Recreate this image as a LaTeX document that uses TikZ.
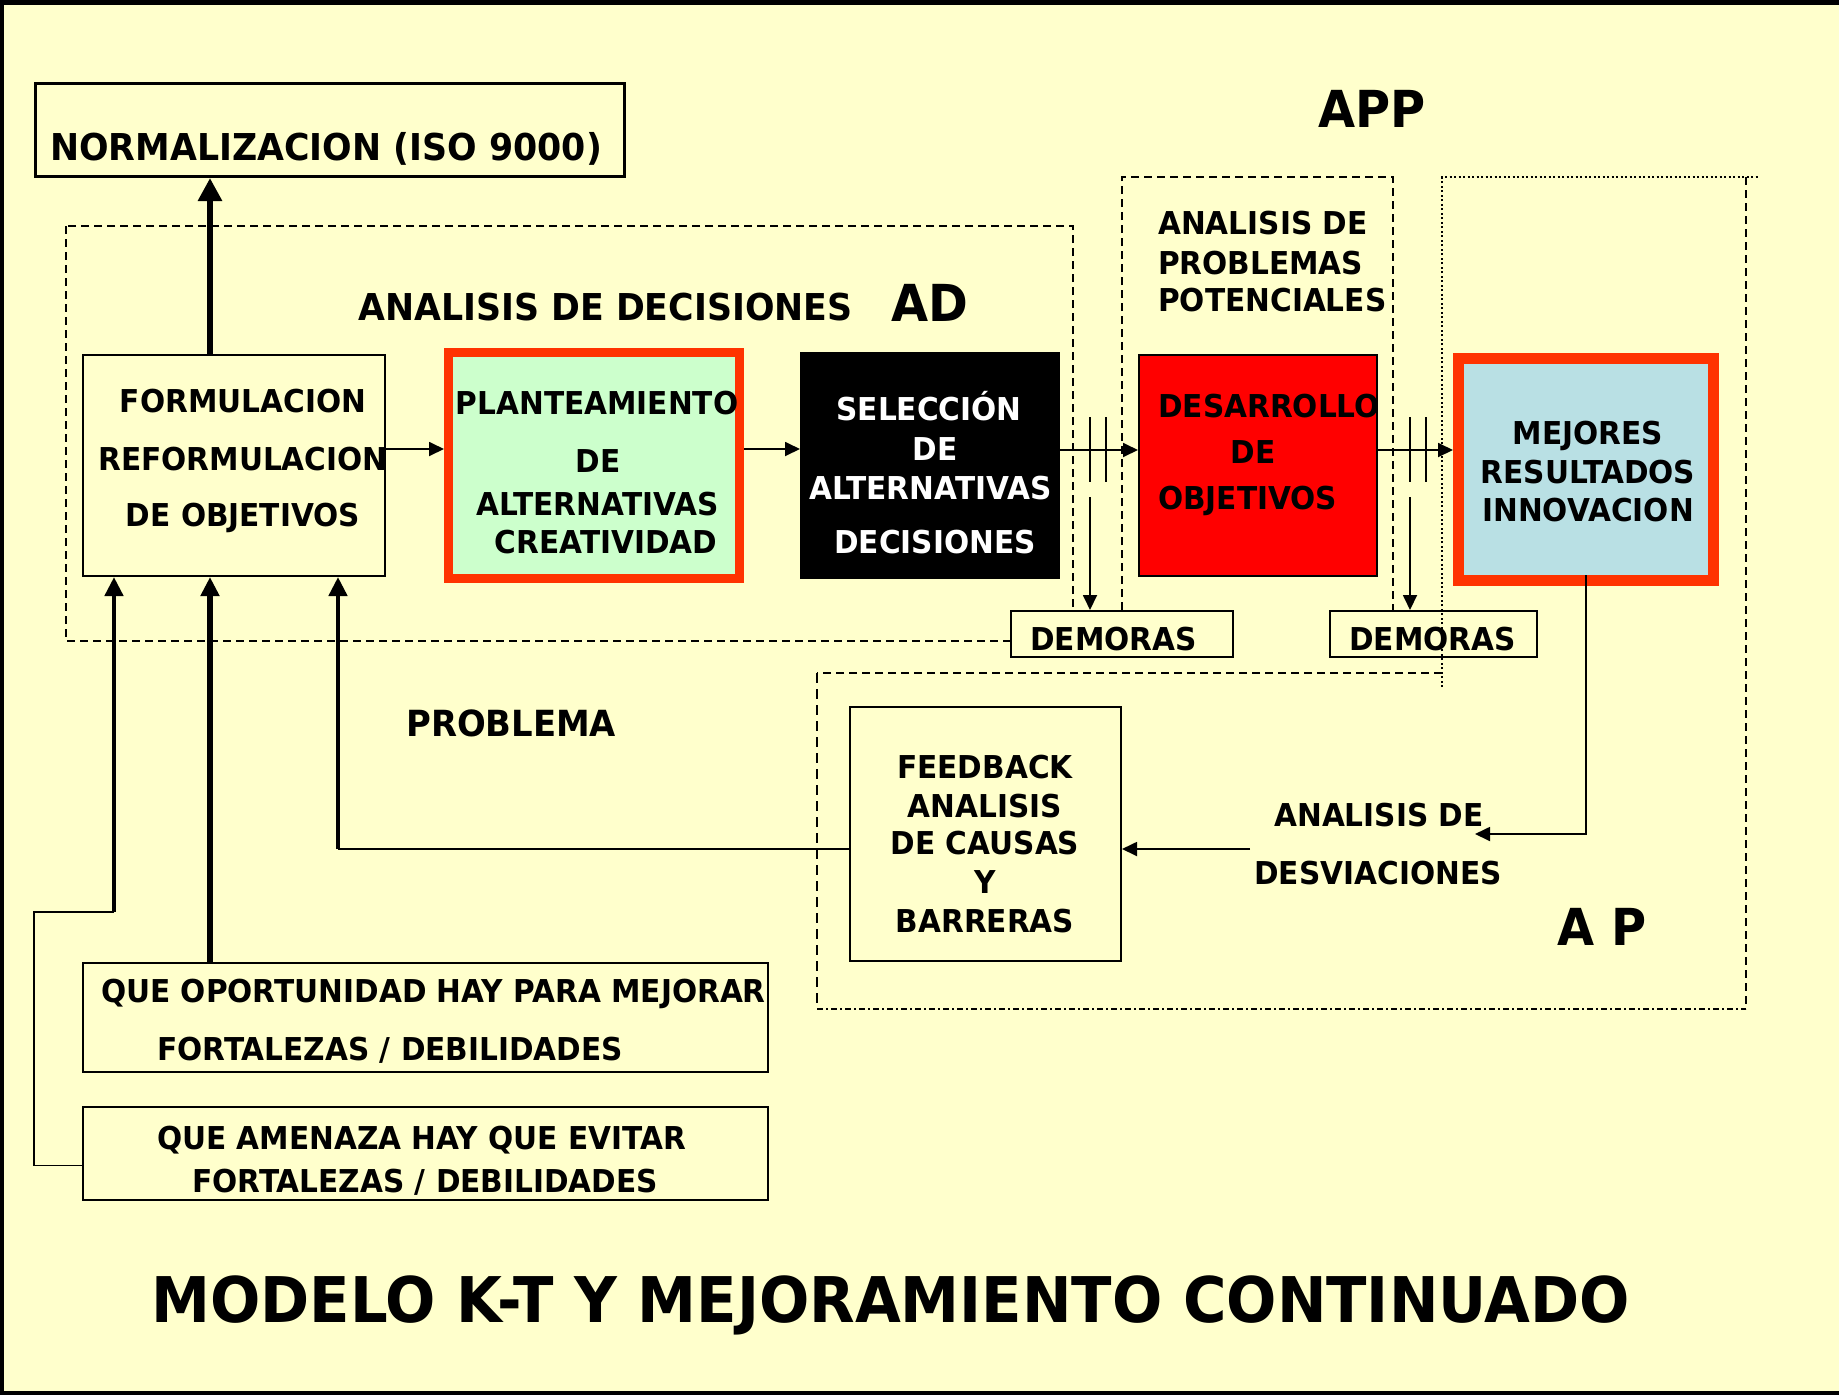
\documentclass[tikz,border=0pt]{standalone}
\usepackage{fontspec}
\setmainfont{DejaVu Sans}[FakeStretch=0.94]
\usetikzlibrary{arrows.meta, positioning}
\definecolor{paper}{RGB}{255,255,204}
\definecolor{mint}{RGB}{204,255,204}
\definecolor{flame}{RGB}{255,51,0}
\definecolor{sky}{RGB}{185,224,228}
\newcommand*{\ktbox}{\fontsize{31.5}{38}\selectfont\bfseries}
\newcommand*{\ktmid}{\fontsize{36}{43}\selectfont\bfseries}
\newcommand*{\ktbig}{\fontsize{51}{61}\selectfont\bfseries}
\newcommand*{\kthead}{\fontsize{63}{76}\selectfont\bfseries}
\tikzstyle{block} = [draw, rectangle, line width=2pt, inner sep=0pt, fill=paper]
\tikzstyle{hot} = [block, draw=flame]
\tikzstyle{word} = [font=\ktbox, inner sep=0pt, anchor=base, yshift=-11.5pt]
\tikzstyle{lword} = [word, anchor=base west]
\tikzstyle{midword} = [font=\ktmid, inner sep=0pt, anchor=base west, yshift=-13pt]
\tikzstyle{bigword} = [font=\ktbig, inner sep=0pt, anchor=base west, yshift=-18.5pt]
\tikzstyle{flow} = [-{Triangle[length=15pt, width=14pt]}, line width=1.8pt]
\tikzstyle{heavy} = [-{Triangle[length=19pt, width=18pt]}, line width=4.5pt]
\tikzstyle{region} = [line width=1.6pt, dash pattern=on 8pt off 5pt]

\begin{document}
\begin{tikzpicture}[x=1pt, y=-1pt]
    \useasboundingbox (0,0) rectangle (1839,1395);

    % Slide.
    \fill [paper] (0,0) rectangle (1839,1395);
    \fill (0,0) rectangle (1839,5);
    \fill (0,0) rectangle (4,1395);
    \fill (0,1391) rectangle (1839,1395);

    % Zones.
    \draw [region] (66,226) rectangle (1073,641);
    \draw [region] (1122,610) -- (1122,177) -- (1393,177) -- (1393,610);
    \draw [region] (1442,673) -- (817,673);
    \draw [region, dash pattern=on 10pt off 6pt] (817,673) -- (817,1009);
    \draw [region, dash pattern=on 6pt off 3pt on 2pt off 3pt] (817,1009) -- (1746,1009);
    \draw [region] (1746,177) -- (1746,1009);

    % Boxes.
    \node (normbox) [block, line width=3pt, minimum width=589pt, minimum height=93pt] at (330,130) {};
    \node (formbox) [block, minimum width=302pt, minimum height=221pt] at (234,465.5) {};
    \node (plantbox) [hot, line width=9pt, fill=mint, minimum width=291pt, minimum height=226pt] at (594,465.5) {};
    \node (selbox) [block, fill=black, minimum width=258pt, minimum height=225pt] at (930,465.5) {};
    \node (desbox) [block, fill=red, minimum width=238pt, minimum height=221pt] at (1258,465.5) {};
    \node (mejbox) [hot, line width=11pt, fill=sky, minimum width=255pt, minimum height=222pt] at (1586,469.5) {};
    \node (dem1) [block, minimum width=222pt, minimum height=46pt] at (1122,634) {};
    \node (dem2) [block, minimum width=207pt, minimum height=46pt] at (1433.5,634) {};
    \node (feedbox) [block, minimum width=271pt, minimum height=254pt] at (985.5,834) {};
    \node (oporbox) [block, minimum width=685pt, minimum height=109pt] at (425.5,1017.5) {};
    \node (amenbox) [block, minimum width=685pt, minimum height=93pt] at (425.5,1153.5) {};

    \draw [region, dash pattern=on 2pt off 2.5pt] (1442,687) -- (1442,177) -- (1758,177);

    % Arrows.
    \coordinate (delay1) at (1090,450);
    \coordinate (delay2) at (1410,450);
    \coordinate (devin) at (1475,834);
    \coordinate (devout) at (1250,849);
    \coordinate (back) at (338,849);
    \coordinate (turn) at (114,912);

    \draw [heavy, line width=6pt, -{Triangle[length=23pt, width=23pt]}] ([xshift=-24pt]formbox.north) -- ([xshift=-24pt]formbox.north |- normbox.south);
    \draw [flow] ([yshift=16.5pt]formbox.east) -- ([yshift=16.5pt]formbox.east -| plantbox.west);
    \draw [flow] ([yshift=16.5pt]plantbox.east) -- ([yshift=16.5pt]plantbox.east -| selbox.west);
    \draw [flow] (selbox.east |- delay1) -- (delay1 -| desbox.west);
    \draw [flow] (desbox.east |- delay2) -- (delay2 -| mejbox.west);

    \foreach \d in {delay1, delay2} {
        \draw [line width=1.8pt] ([yshift=33pt]\d) -- ([yshift=-32pt]\d);
        \draw [line width=1.8pt] ([xshift=16pt, yshift=33pt]\d) -- ([xshift=16pt, yshift=-32pt]\d);
    }
    \draw [flow] ([yshift=-47pt]delay1) -- (delay1 |- dem1.north);
    \draw [flow] ([yshift=-47pt]delay2) -- (delay2 |- dem2.north);

    % Feedback.
    \draw [flow] ([yshift=11pt]mejbox.south) |- (devin);
    \draw [flow] (devout) -- (devout -| feedbox.east);
    \draw [line width=1.8pt] (back -| feedbox.west) -- (back);
    \draw [heavy] (back) -- (back |- formbox.south);
    \draw [heavy, line width=6pt] ([xshift=-24pt]formbox.south |- oporbox.north) -- ([xshift=-24pt]formbox.south);
    \draw [line width=1.8pt] ([yshift=-12pt]amenbox.west) -| ([xshift=-80pt]turn) -- (turn);
    \draw [heavy] (turn) -- (turn |- formbox.south);

    % Texts.
    \node (normtext) [midword, font=\fontsize{37}{44}\selectfont\bfseries] at (50,147.5) {NORMALIZACION (ISO 9000)};
    \node (adtext) [midword, font=\fontsize{37}{44}\selectfont\bfseries] at (358,307) {ANALISIS DE DECISIONES};
    \node (adlabel) [bigword] at (891,302.6) {AD};
    \node (applabel) [bigword] at (1318,109) {APP};
    \node (aplabel) [bigword] at (1557,926.5) {A P};
    \node (problabel) [midword] at (406,723.6) {PROBLEMA};

    \foreach \i/\t/\y in {1/ANALISIS DE/223, 2/PROBLEMAS/263, 3/POTENCIALES/300}
        \node (pot\i) [lword] at (1158,\y) {\t};

    \foreach \i/\t/\y in {1/FORMULACION/401, 2/REFORMULACION/459, 3/DE OBJETIVOS/515}
        \node (form\i) [word] at (243,\y) {\t};

    \foreach \i/\t/\x/\y in {1/PLANTEAMIENTO/597/403, 2/DE/598/460.5, 3/ALTERNATIVAS/597.5/503.7, 4/CREATIVIDAD/606/541.7}
        \node (plant\i) [word] at (\x,\y) {\t};

    \foreach \i/\t/\x/\y in {1/SELECCIÓN/929/409, 2/DE/935/449, 3/ALTERNATIVAS/930.6/488, 4/DECISIONES/935/542}
        \node (sel\i) [word, text=white] at (\x,\y) {\t};

    \node (des1) [lword] at (1158,406) {DESARROLLO};
    \node (des2) [word] at (1253,452) {DE};
    \node (des3) [lword] at (1158,498) {OBJETIVOS};

    \foreach \i/\t/\y in {1/MEJORES/433, 2/RESULTADOS/471.5, 3/INNOVACION/510}
        \node (mej\i) [word] at (1588,\y) {\t};

    \node (demtext1) [lword] at (1030,639) {DEMORAS};
    \node (demtext2) [lword] at (1349,639) {DEMORAS};

    \foreach \i/\t/\y in {1/FEEDBACK/767, 2/ANALISIS/806, 3/DE CAUSAS/843, 4/Y/882, 5/BARRERAS/921}
        \node (feed\i) [word] at (985,\y) {\t};

    \node (dev1) [word] at (1379,815) {ANALISIS DE};
    \node (dev2) [word] at (1378,872.6) {DESVIACIONES};

    \node (opor1) [lword] at (101,991) {QUE OPORTUNIDAD HAY PARA MEJORAR};
    \node (opor2) [lword] at (157,1048.5) {FORTALEZAS / DEBILIDADES};
    \node (amen1) [lword] at (157,1137.6) {QUE AMENAZA HAY QUE EVITAR};
    \node (amen2) [lword] at (192,1181) {FORTALEZAS / DEBILIDADES};

    \node (title) [font=\kthead, inner sep=0pt, anchor=base west, yshift=-23pt] at (151,1299.5) {MODELO K-T Y MEJORAMIENTO CONTINUADO};
\end{tikzpicture}
\end{document}
